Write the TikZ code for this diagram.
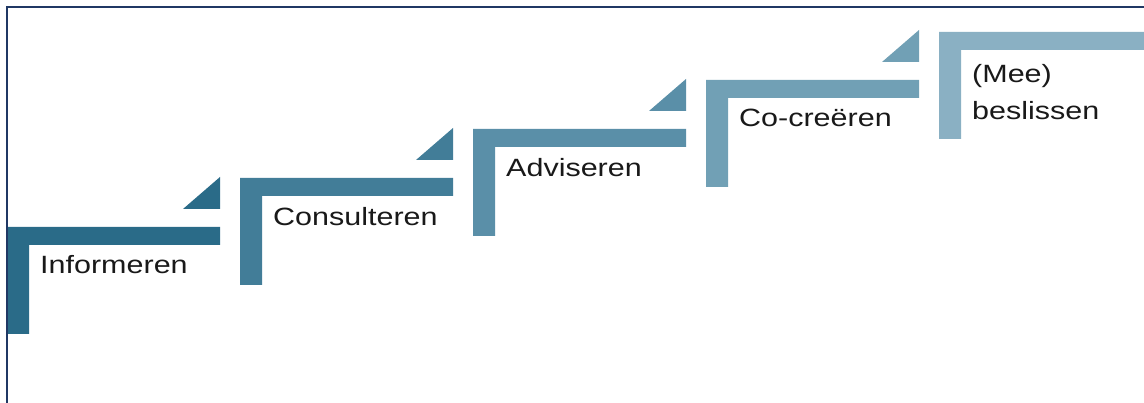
\documentclass[tikz,border=0pt]{standalone}
\usepackage{fontspec}
\setmainfont{Liberation Sans}
\definecolor{frameblue}{RGB}{32,56,100}
\definecolor{stA}{RGB}{42,107,136}
\definecolor{stB}{RGB}{66,125,152}
\definecolor{stC}{RGB}{90,143,168}
\definecolor{stD}{RGB}{113,160,181}
\definecolor{stE}{RGB}{138,176,195}
\tikzset{
  lbl/.style={anchor=base west, inner sep=0pt, font=\fontsize{25}{30}\selectfont, text=black!90},
}
\newcommand\stairstep[3]{% #1 left x, #2 top y, #3 colour
  \fill[#3] (#1,#2) -- ({#1+213},#2) -- ({#1+213},{#2+18}) -- ({#1+22},{#2+18})
     -- ({#1+22},{#2+107}) -- (#1,{#2+107}) -- cycle;
  \fill[#3] ({#1+176},{#2-18}) -- ({#1+213},{#2-18}) -- ({#1+213},{#2-50}) -- cycle;
}
\begin{document}
\begin{tikzpicture}[x=1pt,y=-1pt]
\useasboundingbox (0,0) rectangle (1144,403);
\clip (0,0) rectangle (1144,403);
\fill[white] (0,0) rectangle (1144,403);
\stairstep{7}{227}{stA}
\stairstep{240}{178}{stB}
\stairstep{473}{129}{stC}
\stairstep{706}{80}{stD}
\fill[stE] (939,32) -- (1160,32) -- (1160,50) -- (961,50) -- (961,139) -- (939,139) -- cycle;
\node[lbl] (t1) at (40,274) {\scalebox{1.22}[1]{Informeren}};
\node[lbl] (t2) at (273,226) {\scalebox{1.22}[1]{Consulteren}};
\node[lbl] (t3) at (506,177) {\scalebox{1.22}[1]{Adviseren}};
\node[lbl] (t4) at (739,127) {\scalebox{1.22}[1]{Co-creëren}};
\node[lbl] (t5a) at (972,83) {\scalebox{1.22}[1]{(Mee)}};
\node[lbl] (t5b) at (972,120) {\scalebox{1.22}[1]{beslissen}};
\draw[frameblue, line width=1.6pt] (7,7) rectangle (1160,420);
\end{tikzpicture}
\end{document}
